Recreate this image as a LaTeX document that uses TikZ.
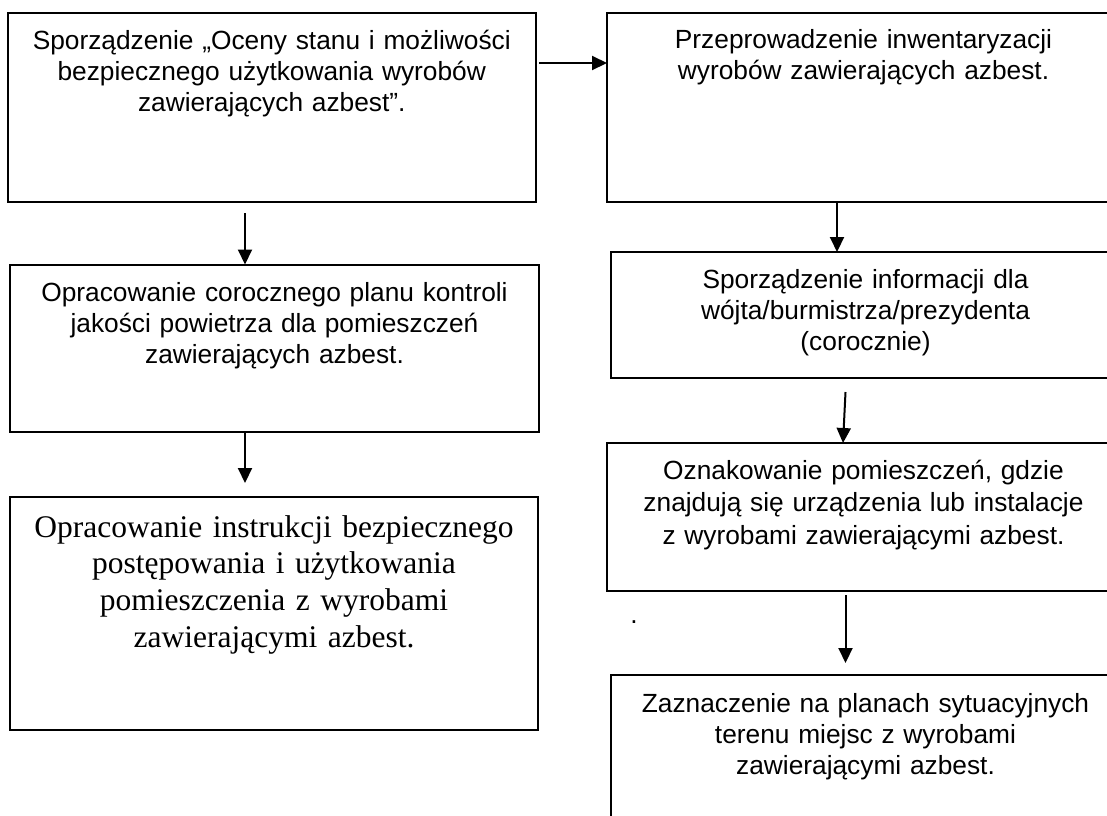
\documentclass[tikz,border=0pt]{standalone}
\usepackage{fontspec}
\setmainfont{Liberation Sans}
\newfontfamily\tnr{Liberation Serif}
\usetikzlibrary{arrows.meta,calc}
\begin{document}
\begin{tikzpicture}[x=1pt,y=-1pt,
  box/.style={draw, line width=2pt, inner sep=0pt, outer sep=0pt},
  txt/.style={anchor=base, align=center, text width=520pt, inner sep=0pt,
    font=\fontsize{26.3}{31.2}\selectfont},
  sertxt/.style={anchor=base, align=center, text width=520pt, inner sep=0pt,
    font=\tnr\fontsize{31.5}{36.7}\selectfont},
  arr/.style={line width=2pt, -{Triangle[length=15pt,width=14pt]}}]
\clip (0,0) rectangle (1107,815);
% boxes
\node[box, minimum width=528.5pt, minimum height=189.5pt] (b1) at (271.75,107.25) {};
\node[box, minimum width=513pt, minimum height=189.5pt] (b2) at (863.5,107.25) {};
\node[box, minimum width=529pt, minimum height=167.5pt] (b3) at (274.5,348.25) {};
\node[box, minimum width=528pt, minimum height=233pt] (b4) at (274,613.5) {};
\node[box, minimum width=509pt, minimum height=125.5pt] (b5) at (865.5,314.75) {};
\node[box, minimum width=513pt, minimum height=148pt] (b6) at (863.5,517) {};
\node[box, minimum width=509pt, minimum height=155pt] (b7) at (865.5,752.5) {};
% texts
\node[txt] (t1) at ($(b1.north)+(0,37)$) {Sporządzenie „Oceny stanu i możliwości\\bezpiecznego użytkowania wyrobów\\zawierających azbest”.};
\node[txt] (t2) at ($(b2.north)+(0,36)$) {Przeprowadzenie inwentaryzacji\\wyrobów zawierających azbest.};
\node[txt] (t3) at ($(b3.north)+(0,37)$) {Opracowanie corocznego planu kontroli\\jakości powietrza dla pomieszczeń\\zawierających azbest.};
\node[sertxt] (t4) at ($(b4.north)+(0,40)$) {Opracowanie instrukcji bezpiecznego\\postępowania i użytkowania\\pomieszczenia z wyrobami\\zawierającymi azbest.};
\node[txt] (t5) at ($(b5.north)+(0,36)$) {Sporządzenie informacji dla\\wójta/burmistrza/prezydenta\\(corocznie)};
\node[txt, font=\fontsize{26.3}{32.5}\selectfont] (t6) at ($(b6.north)+(0,36)$) {Oznakowanie pomieszczeń, gdzie\\znajdują się urządzenia lub instalacje\\z wyrobami zawierającymi azbest.};
\node[txt] (t7) at ($(b7.north)+(0,37)$) {Zaznaczenie na planach sytuacyjnych\\terenu miejsc z wyrobami\\zawierającymi azbest.};
\node[anchor=base, inner sep=0pt, font=\fontsize{26.3}{31}\selectfont] (dot) at (634,623.5) {.};
% arrow columns
\coordinate (y12) at (0,63);
\coordinate (x13) at (245,0);
\coordinate (x25) at (837,0);
\coordinate (x56a) at (845.5,0);
\coordinate (x56b) at (843,0);
\coordinate (x67) at (845.5,0);
% arrows
\draw[arr, shorten <=3pt] (b1.east |- y12) -- (b2.west |- y12);
\draw[arr, shorten <=11pt] (b1.south -| x13) -- (b3.north -| x13);
\draw[arr, shorten >=14pt] (b3.south -| x13) -- (b4.north -| x13);
\draw[arr] (b2.south -| x25) -- (b5.north -| x25);
\draw[arr] ($(b5.south -| x56a)+(0,14.5)$) -- (b6.north -| x56b);
\draw[arr, shorten <=4pt, shorten >=12pt] (b6.south -| x67) -- (b7.north -| x67);
\end{tikzpicture}
\end{document}
